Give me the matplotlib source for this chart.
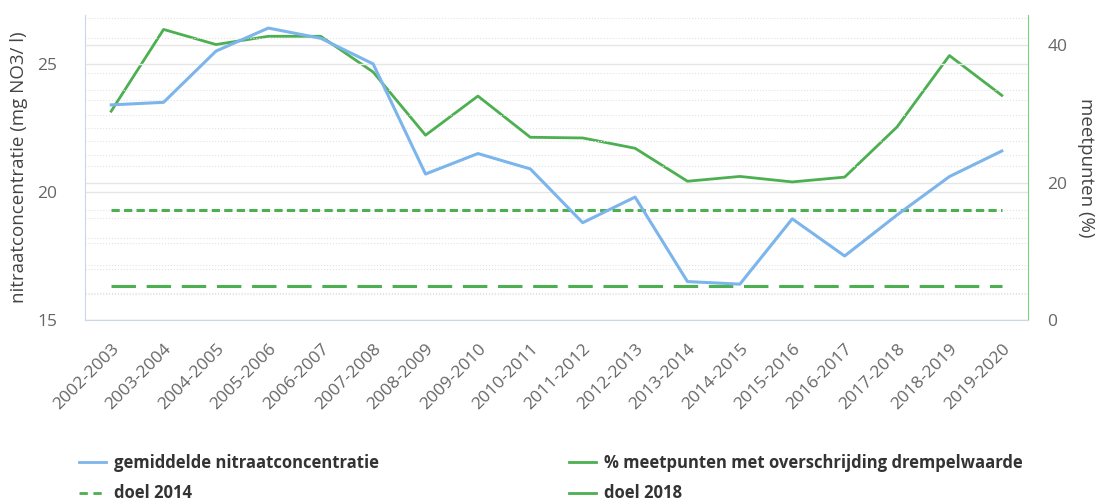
import matplotlib.pyplot as plt
from matplotlib.ticker import MultipleLocator
from matplotlib.lines import Line2D

plt.rcParams['font.family'] = ['Open Sans', 'DejaVu Sans']

# data
seasons = ['2002-2003', '2003-2004', '2004-2005', '2005-2006', '2006-2007', '2007-2008',
           '2008-2009', '2009-2010', '2010-2011', '2011-2012', '2012-2013', '2013-2014',
           '2014-2015', '2015-2016', '2016-2017', '2017-2018', '2018-2019', '2019-2020']
nitrate = [23.4, 23.5, 25.5, 26.4, 26.0, 25.0, 20.7, 21.5, 20.9, 18.8, 19.8, 16.5,
           16.4, 18.95, 17.5, 19.1, 20.6, 21.6]
pct_exceed = [30.4, 42.3, 40.1, 41.3, 41.3, 36.1, 26.9, 32.6, 26.6, 26.5, 25.0, 20.2,
              20.9, 20.1, 20.8, 28.1, 38.5, 32.7]
target_2014 = 16
target_2018 = 5

blue = '#7cb5ec'
green = '#4caf50'
grey = '#666666'
x = list(range(len(seasons)))

fig = plt.figure(figsize=(11.02, 5.01), dpi=100)
ax = fig.add_axes([85 / 1102, 1 - 320 / 501, (1028 - 85) / 1102, 305 / 501])
ax2 = ax.twinx()
ax.set_zorder(ax2.get_zorder() + 1)
ax.patch.set_visible(False)

# right axis: percentages and targets
ax2.plot(x, pct_exceed, color=green, lw=2.0, solid_joinstyle='round')
ax2.plot(x, [target_2014] * len(x), color=green, lw=2.2, dashes=(2.7, 1.4))
ax2.plot(x, [target_2018] * len(x), color=green, lw=2.2, dashes=(8, 3.5))
ax2.set_ylim(0, 44.4)
ax2.yaxis.set_major_locator(MultipleLocator(20))
ax2.yaxis.set_minor_locator(MultipleLocator(4))
ax2.grid(True, which='major', color='#e6e6e6', lw=1)
ax2.grid(True, which='minor', color='#e3e3e3', lw=0.8, ls=':')

# left axis: nitrate concentration
ax.plot(x, nitrate, color=blue, lw=2.2, solid_joinstyle='round')
ax.set_ylim(15, 26.91)
ax.set_xlim(-0.5, len(x) - 0.5)
ax.yaxis.set_major_locator(MultipleLocator(5))
ax.yaxis.set_minor_locator(MultipleLocator(1))
ax.grid(True, axis='y', which='major', color='#e6e6e6', lw=1)
ax.grid(True, axis='y', which='minor', color='#e3e3e3', lw=0.8, ls=':')
ax.set_axisbelow(True)

ax.set_xticks(x)
ax.set_xticklabels(seasons, rotation=45, ha='right', rotation_mode='anchor',
                   fontsize=12.5, color=grey)
ax.tick_params(axis='x', length=0, pad=15)
ax.tick_params(axis='y', which='both', length=0, pad=20, labelsize=12.5, labelcolor=grey)
ax2.tick_params(axis='y', which='both', length=0, pad=14, labelsize=12.5, labelcolor=grey)

for a in (ax, ax2):
    a.spines['top'].set_visible(False)
ax.spines['right'].set_visible(False)
ax.spines['left'].set_color('#ccd6eb')
ax.spines['bottom'].set_color('#ccd6eb')
ax2.spines['left'].set_visible(False)
ax2.spines['bottom'].set_visible(False)
ax2.spines['right'].set_color('#7fcf7f')

ax.set_ylabel('nitraatconcentratie (mg NO3/ l)', fontsize=13.5, color='#444444')
ax.yaxis.set_label_coords((28 - 85) / 943, 0.5)
ax2.set_ylabel('meetpunten (%)', fontsize=13.5, color='#444444', rotation=270, va='bottom')
ax2.yaxis.set_label_coords((1077 - 85) / 943, 0.5)

# legend in two columns
leg_kw = dict(loc='upper left', frameon=False, handlelength=1.6, handletextpad=0.5,
              borderpad=0, borderaxespad=0, labelspacing=0.75,
              prop={'size': 12, 'weight': 'bold'}, labelcolor='#333333')
h1 = [Line2D([], [], color=blue, lw=2),
      Line2D([], [], color=green, lw=2, dashes=(3, 2))]
h2 = [Line2D([], [], color=green, lw=2),
      Line2D([], [], color=green, lw=2)]
l1 = fig.legend(h1, ['gemiddelde nitraatconcentratie', 'doel 2014'],
                bbox_to_anchor=(79 / 1102, 1 - 454 / 501), **leg_kw)
l2 = fig.legend(h2, ['% meetpunten met overschrijding drempelwaarde', 'doel 2018'],
                bbox_to_anchor=(569 / 1102, 1 - 454 / 501), **leg_kw)

fig.savefig('out.png', dpi=100)
